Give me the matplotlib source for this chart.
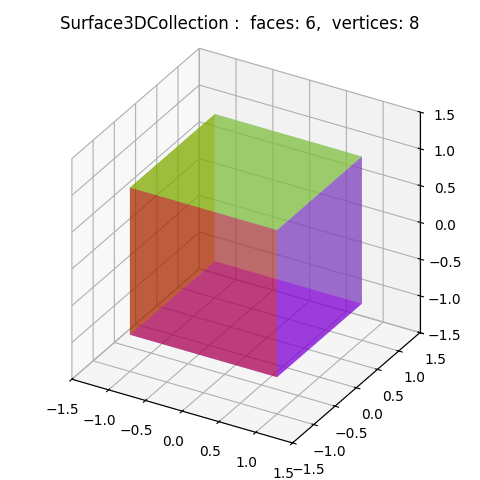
import numpy as np
import matplotlib
matplotlib.use("Agg")
import matplotlib.pyplot as plt
from mpl_toolkits.mplot3d.art3d import Poly3DCollection

title = "Surface3DCollection :  faces: 6,  vertices: 8"
vertices = np.array([[-1,-1,-1],[1,-1,-1],[1,1,-1],[-1,1,-1],
                     [-1,-1,1],[1,-1,1],[1,1,1],[-1,1,1]], dtype=float)
faces = [[0,1,2,3],[4,5,6,7],[0,1,5,4],[1,2,6,5],[2,3,7,6],[3,0,4,7]]
face_colors = ["b", "y", "r", "m", "c", "g"]
limits = [-1.5, 1.5]
ticks = [-1.5,-1.0,-0.5,0.0,0.5,1.0,1.5]

fig = plt.figure(figsize=(4.8,4.8), dpi=100)
ax = fig.add_axes([0.054,0.03,0.8925,0.8925], projection="3d", proj_type="ortho")
ax.set_box_aspect((1,1,1))
polys = [vertices[f] for f in faces]
coll = Poly3DCollection(polys, facecolors=face_colors, edgecolors="none", alpha=0.5)
ax.add_collection3d(coll)
ax.set_xlim(limits); ax.set_ylim(limits); ax.set_zlim(limits)
ax.set_xticks(ticks); ax.set_yticks(ticks); ax.set_zticks(ticks)
ax.set_title(title)
fig.savefig("out.png", dpi=100)
